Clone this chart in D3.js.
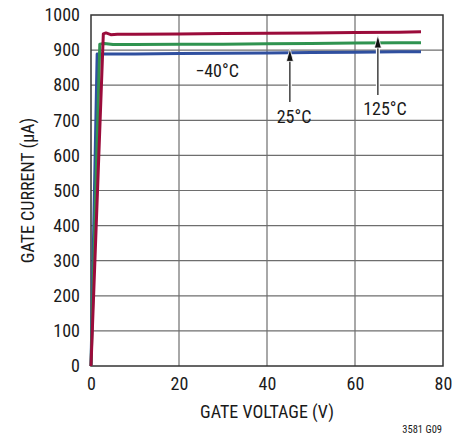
<!DOCTYPE html>
<html>
<head>
<meta charset="utf-8">
<script src="https://cdn.jsdelivr.net/npm/d3@7"></script>
<style>
  body { margin: 0; background: #fff; }
  text { font-family: "Liberation Sans Narrow", "Arial Narrow", "Roboto Condensed", sans-serif; fill: #1a1a1a; }
</style>
</head>
<body>
<div id="chart"></div>
<script>
// gate voltage (V) vs gate current (uA)
const vCold = [0, 1.4, 10, 20, 30, 40, 50, 60, 70, 75];
const iCold = [0, 889, 889, 890, 891, 892, 893, 894, 895, 895];
const vRoom = [0, 2.0, 3, 5, 10, 20, 30, 40, 50, 60, 70, 75];
const iRoom = [0, 917, 919, 916, 916, 917, 917, 918, 919, 920, 921, 921];
const vHot = [0, 2.8, 3.4, 4.5, 6, 10, 20, 30, 40, 50, 60, 70, 75];
const iHot = [0, 946, 949, 944, 945, 945, 946, 947, 948, 949, 950, 951, 952];
const xTicks = [0, 20, 40, 60, 80];
const yTicks = [0, 100, 200, 300, 400, 500, 600, 700, 800, 900, 1000];

const W = 468, H = 436;
const margin = { left: 91, right: 25, top: 15, bottom: 70 };
const FS = 18;

const svg = d3.select("#chart").append("svg")
    .attr("width", W)
    .attr("height", H);

const x = d3.scaleLinear().domain([0, 80]).range([margin.left, W - margin.right]);
const y = d3.scaleLinear().domain([0, 1000]).range([H - margin.bottom, margin.top]);

// grid
svg.append("g")
    .selectAll("line")
    .data(xTicks.slice(1, -1))
    .join("line")
    .attr("x1", d => x(d)).attr("x2", d => x(d))
    .attr("y1", y(0)).attr("y2", y(1000))
    .attr("stroke", "#6e6e6e").attr("stroke-width", 1.2);

svg.append("g")
    .selectAll("line")
    .data(yTicks.slice(1, -1))
    .join("line")
    .attr("x1", x(0)).attr("x2", x(80))
    .attr("y1", d => y(d)).attr("y2", d => y(d))
    .attr("stroke", "#6e6e6e").attr("stroke-width", 1.2);

// frame
svg.append("rect")
    .attr("x", x(0)).attr("y", y(1000))
    .attr("width", x(80) - x(0)).attr("height", y(0) - y(1000))
    .attr("fill", "none").attr("stroke", "#333").attr("stroke-width", 1.5);

// axes
const xAxis = svg.append("g")
    .attr("transform", `translate(0,${y(0)})`)
    .call(d3.axisBottom(x).tickValues(xTicks).tickFormat(d3.format("d")).tickSize(0).tickPadding(10));
const yAxis = svg.append("g")
    .attr("transform", `translate(${x(0)},0)`)
    .call(d3.axisLeft(y).tickValues(yTicks).tickFormat(d3.format("d")).tickSize(0).tickPadding(11));
[xAxis, yAxis].forEach(a => {
    a.select(".domain").remove();
    a.selectAll("text").attr("font-size", FS).style("font-family", null).attr("fill", "#1a1a1a");
});
xAxis.selectAll("text").attr("dy", "0.75em");

// curves
const line = d3.line().x(d => x(d[0])).y(d => y(d[1]));
const series = [
    { v: vCold, i: iCold, color: "#2f4f9f" },
    { v: vRoom, i: iRoom, color: "#2f9350" },
    { v: vHot, i: iHot, color: "#9b0c3b" }
];
series.forEach(s => {
    svg.append("path")
        .datum(s.v.map((v, k) => [v, s.i[k]]))
        .attr("d", line)
        .attr("fill", "none")
        .attr("stroke", s.color)
        .attr("stroke-width", 3)
        .attr("stroke-linejoin", "round");
});

// arrows
const arrow = (xv, yTip, yEnd) => {
    const px = x(xv), t = y(yTip), b = y(yEnd);
    svg.append("line")
        .attr("x1", px).attr("x2", px).attr("y1", t + 6).attr("y2", b)
        .attr("stroke", "#fff").attr("stroke-width", 4);
    svg.append("line")
        .attr("x1", px).attr("x2", px).attr("y1", t + 8).attr("y2", b)
        .attr("stroke", "#111").attr("stroke-width", 1.2);
    svg.append("path")
        .attr("d", `M${px},${t} L${px - 3.5},${t + 13} L${px + 3.5},${t + 13} Z`)
        .attr("fill", "#111")
        .attr("stroke", "#fff").attr("stroke-width", 0.8);
};
arrow(45.2, 905, 752);
arrow(65.2, 943, 772);

// labels
svg.append("text").attr("x", 217).attr("y", 77)
    .attr("text-anchor", "middle").attr("font-size", FS).text("\u221240\u00b0C");
svg.append("text").attr("x", 294).attr("y", 123)
    .attr("text-anchor", "middle").attr("font-size", FS).text("25\u00b0C");
svg.append("text").attr("x", 385).attr("y", 115)
    .attr("text-anchor", "middle").attr("font-size", FS).text("125\u00b0C");

svg.append("text")
    .attr("x", (x(0) + x(80)) / 2).attr("y", 418)
    .attr("text-anchor", "middle").attr("font-size", FS)
    .text("GATE VOLTAGE (V)");
svg.append("text")
    .attr("transform", `translate(34,${(y(0) + y(1000)) / 2}) rotate(-90)`)
    .attr("text-anchor", "middle").attr("font-size", FS)
    .text("GATE CURRENT (\u00b5A)");
svg.append("text")
    .attr("x", 442).attr("y", 433)
    .attr("text-anchor", "end").attr("font-size", 10.5)
    .text("3581 G09");
</script>
</body>
</html>
